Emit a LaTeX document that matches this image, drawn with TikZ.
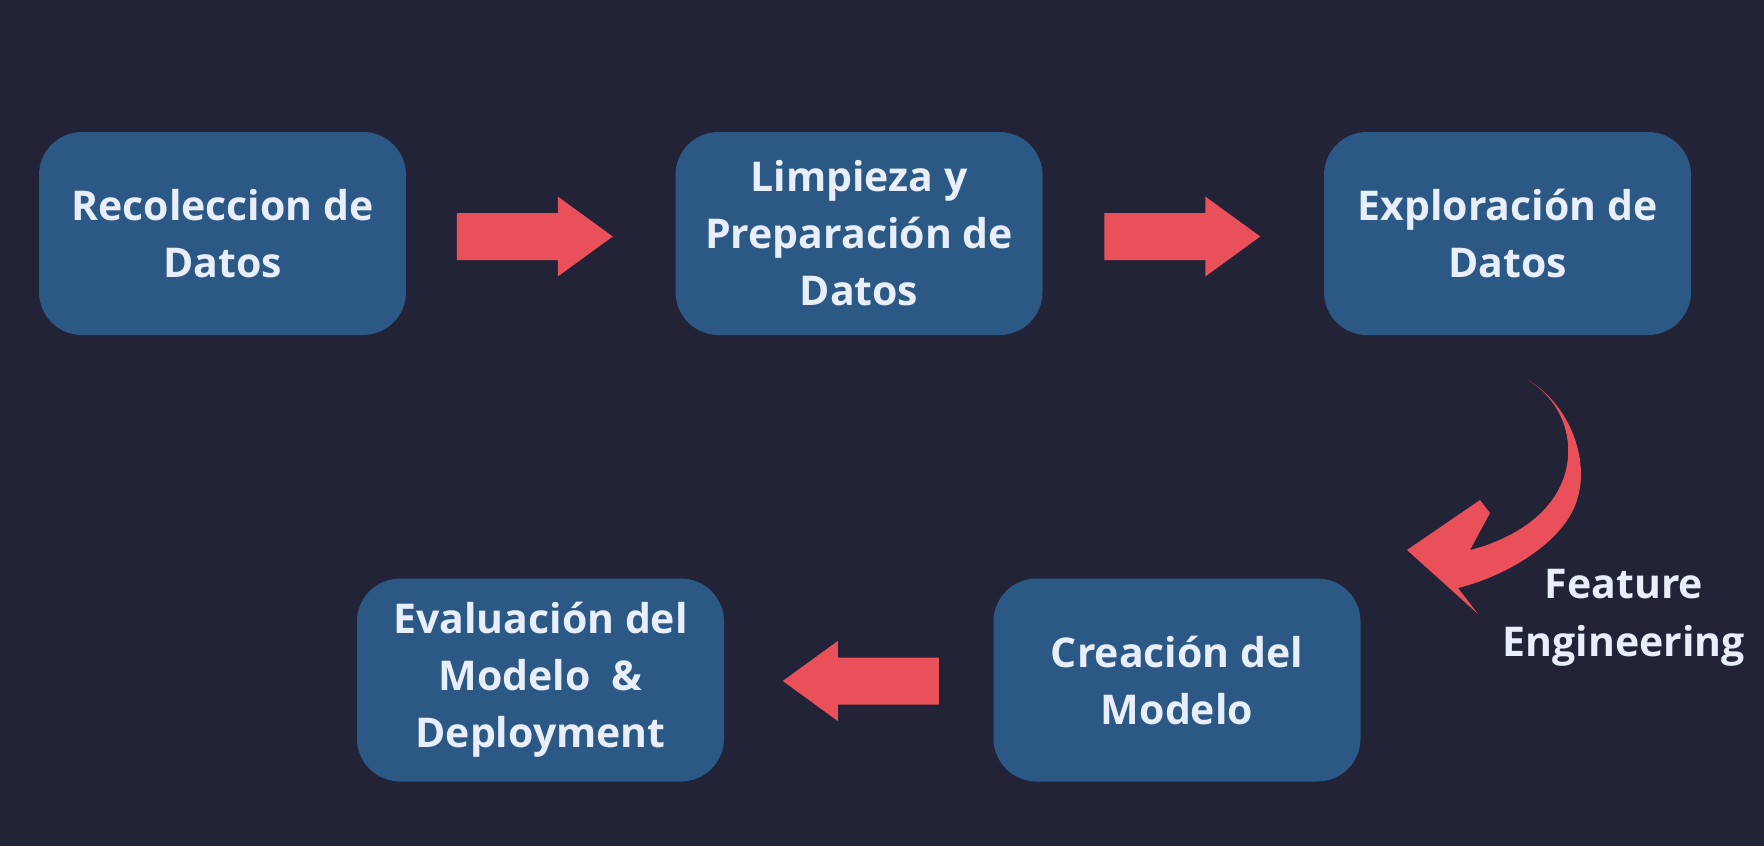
\documentclass[tikz,border=0pt]{standalone}
\usepackage{fontspec}
\setmainfont{Open Sans}
\usetikzlibrary{calc}
\definecolor{bgcol}{HTML}{222337}
\definecolor{boxcol}{HTML}{2B5884}
\definecolor{redcol}{HTML}{E9505A}
\definecolor{txtcol}{HTML}{E8EEFA}
\tikzset{
  stepbox/.style={draw=none, fill=boxcol, rounded corners=43pt, minimum width=367pt, minimum height=203pt,
    inner sep=0pt, align=center, text=txtcol, font=\fontsize{41}{57}\selectfont\bfseries},
  redshape/.style={fill=redcol, draw=none},
  notetext/.style={text=txtcol, align=center, font=\fontsize{41}{58}\selectfont\bfseries, inner sep=0pt}
}
\begin{document}
\begin{tikzpicture}[x=1pt,y=-1pt]
\fill[bgcol] (0,0) rectangle (1764,846);
\useasboundingbox (0,0) rectangle (1764,846);

\node[stepbox] (b1) at (222.5,233.5) {Recoleccion de\\Datos};
\node[stepbox] (b2) at (859,233.5) {Limpieza y\\Preparación de\\Datos};
\node[stepbox] (b3) at (1507.5,233.5) {Exploración de\\Datos};
\node[stepbox] (b4) at (540.5,680) {Evaluación del\\Modelo~~\&\\Deployment};
\node[stepbox] (b5) at (1177,680) {Creación del\\Modelo};

\coordinate (m12) at ($(b1.east)!0.5!(b2.west)+(-6,3)$);
\coordinate (m23) at ($(b2.east)!0.5!(b3.west)+(-1,3)$);
\coordinate (m54) at ($(b5.west)!0.5!(b4.east)+(2,1)$);

\fill[redshape, shift={(m12)}] (-78,-23.5) -- (23,-23.5) -- (23,-40) -- (78,0) -- (23,40) -- (23,23.5) -- (-78,23.5) -- cycle;
\fill[redshape, shift={(m23)}] (-78,-23.5) -- (23,-23.5) -- (23,-40) -- (78,0) -- (23,40) -- (23,23.5) -- (-78,23.5) -- cycle;
\fill[redshape, shift={(m54)}] (78,-23.5) -- (-23,-23.5) -- (-23,-40) -- (-78,0) -- (-23,40) -- (-23,23.5) -- (78,23.5) -- cycle;

% curved arrow from Exploración to Creación
\fill[redshape] (1528,380)
  .. controls (1570,405) and (1590,460) .. (1577,500)
  .. controls (1565,540) and (1510,575) .. (1458,588)
  -- (1478,614) -- (1407,550) -- (1480,500) -- (1490,513) -- (1470,550)
  .. controls (1510,540) and (1555,515) .. (1566,470)
  .. controls (1574,435) and (1560,400) .. (1528,380) -- cycle;

\node[notetext] (fe) at (1624,618) {Feature\\Engineering};
\end{tikzpicture}
\end{document}
